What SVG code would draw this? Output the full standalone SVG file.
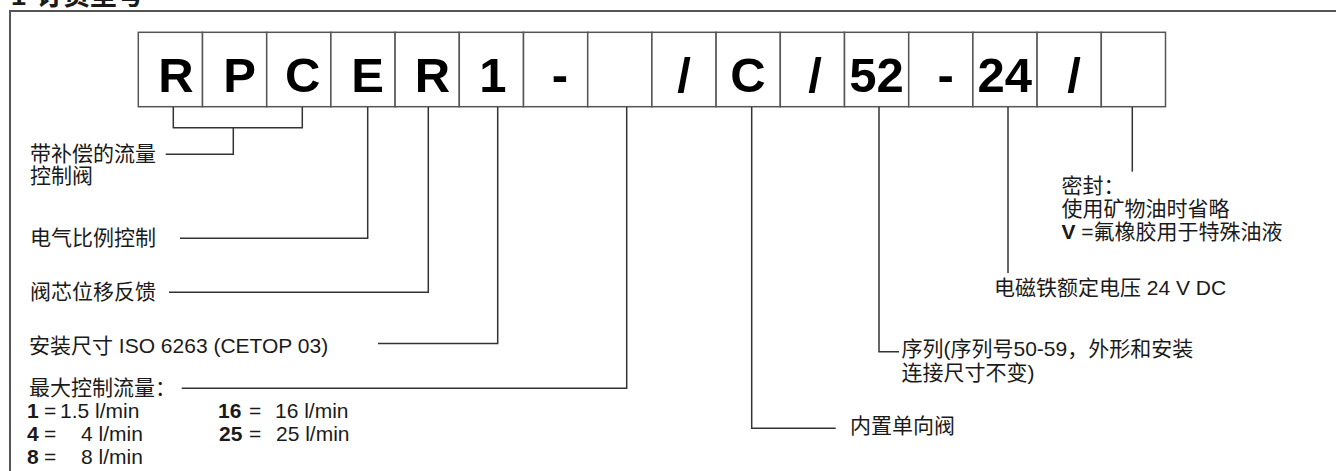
<svg xmlns="http://www.w3.org/2000/svg" width="1336" height="471" viewBox="0 0 1336 471">
<style>
text{font-family:"Liberation Sans","Noto Sans CJK SC",sans-serif;fill:#1a1a1a}
.lbl{font-size:21px}
.b{font-weight:bold}
.code{font-size:49px;font-weight:bold;text-anchor:middle;fill:#000}
.box{fill:#fff;stroke:#555;stroke-width:1.5}
.conn path{fill:none;stroke:#333;stroke-width:1.5}
.frame{fill:none;stroke:#555;stroke-width:2}
</style>
<rect x="0" y="0" width="1336" height="471" fill="#fff"/>
<text class="b" font-size="27" y="4.5"><tspan x="11">1</tspan><tspan x="24">-</tspan><tspan x="36">订货型号</tspan></text>
<path class="frame" d="M10,480 V11 H1340"/>

<g id="box1"><rect class="box" x="138.3" y="32.3" width="64.2" height="74.4"/><text class="code" x="176" y="92">R</text></g>
<g id="box2"><rect class="box" x="202.5" y="32.3" width="64.2" height="74.4"/><text class="code" x="239.7" y="92">P</text></g>
<g id="box3"><rect class="box" x="266.7" y="32.3" width="64.2" height="74.4"/><text class="code" x="302.8" y="92">C</text></g>
<g id="box4"><rect class="box" x="330.9" y="32.3" width="64.2" height="74.4"/><text class="code" x="367.5" y="92">E</text></g>
<g id="box5"><rect class="box" x="395.1" y="32.3" width="64.2" height="74.4"/><text class="code" x="432.5" y="92">R</text></g>
<g id="box6"><rect class="box" x="459.3" y="32.3" width="64.2" height="74.4"/><text class="code" x="493" y="92">1</text></g>
<g id="box7"><rect class="box" x="523.5" y="32.3" width="64.2" height="74.4"/><text class="code" x="560" y="92">-</text></g>
<g id="box8"><rect class="box" x="587.7" y="32.3" width="64.2" height="74.4"/></g>
<g id="box9"><rect class="box" x="651.9" y="32.3" width="64.2" height="74.4"/><text class="code" x="684" y="92">/</text></g>
<g id="box10"><rect class="box" x="716.1" y="32.3" width="64.2" height="74.4"/><text class="code" x="748" y="92">C</text></g>
<g id="box11"><rect class="box" x="780.3" y="32.3" width="64.2" height="74.4"/><text class="code" x="815" y="92">/</text></g>
<g id="box12"><rect class="box" x="844.5" y="32.3" width="64.2" height="74.4"/><text class="code" x="876.5" y="92">52</text></g>
<g id="box13"><rect class="box" x="908.7" y="32.3" width="64.2" height="74.4"/><text class="code" x="945.7" y="92">-</text></g>
<g id="box14"><rect class="box" x="972.9" y="32.3" width="64.2" height="74.4"/><text class="code" x="1004.8" y="92">24</text></g>
<g id="box15"><rect class="box" x="1037.1" y="32.3" width="64.2" height="74.4"/><text class="code" x="1074" y="92">/</text></g>
<g id="box16"><rect class="box" x="1101.3" y="32.3" width="64.2" height="74.4"/></g>

<g id="connectors" class="conn">
<path d="M173.3,107 V127.7 H302.3 V107 M233.3,127.7 V154.3 H165.7"/>
<path d="M367.7,107 V238.3 H180"/>
<path d="M428.3,107 V292.3 H169"/>
<path d="M497.7,107 V343.5 H378"/>
<path d="M626.7,107 V388.3 H181.7"/>
<path d="M751.7,107 V428.3 H835.7"/>
<path d="M879,107 V351.7 H899"/>
<path d="M1008,107 V273"/>
<path d="M1132.3,107 V171.7"/>
</g>

<g id="label-rpc"><text class="lbl" x="30" y="161"><tspan>带补偿的流量</tspan><tspan x="30" y="183">控制阀</tspan></text></g>
<g id="label-e"><text class="lbl" x="30" y="244.5">电气比例控制</text></g>
<g id="label-r"><text class="lbl" x="30" y="298.5">阀芯位移反馈</text></g>
<g id="label-size"><text class="lbl" x="29" y="353">安装尺寸 ISO 6263 (CETOP 03)</text></g>
<g id="label-flow">
<text class="lbl" x="29" y="394.5">最大控制流量：</text>
<text class="lbl" y="418"><tspan class="b" x="27">1</tspan><tspan x="44">=</tspan><tspan x="60">1.5 l/min</tspan></text>
<text class="lbl" y="441"><tspan class="b" x="27">4</tspan><tspan x="44">=</tspan><tspan x="81">4 l/min</tspan></text>
<text class="lbl" y="464"><tspan class="b" x="27">8</tspan><tspan x="44">=</tspan><tspan x="81">8 l/min</tspan></text>
<text class="lbl" y="418"><tspan class="b" x="218">16</tspan><tspan x="249">=</tspan><tspan x="275">16 l/min</tspan></text>
<text class="lbl" y="441"><tspan class="b" x="219">25</tspan><tspan x="249">=</tspan><tspan x="276">25 l/min</tspan></text>
</g>
<g id="label-check"><text class="lbl" x="850" y="433">内置单向阀</text></g>
<g id="label-series"><text class="lbl" x="901.5" y="356"><tspan>序列(序列号50-59，外形和安装</tspan><tspan x="901.5" y="380">连接尺寸不变)</tspan></text></g>
<g id="label-voltage"><text class="lbl" x="994" y="295">电磁铁额定电压 24 V DC</text></g>
<g id="label-seal"><text class="lbl" x="1061.5" y="193"><tspan>密封：</tspan><tspan x="1061.5" y="216">使用矿物油时省略</tspan><tspan x="1061.5" y="239"><tspan class="b">V</tspan> =氟橡胶用于特殊油液</tspan></text></g>
</svg>
